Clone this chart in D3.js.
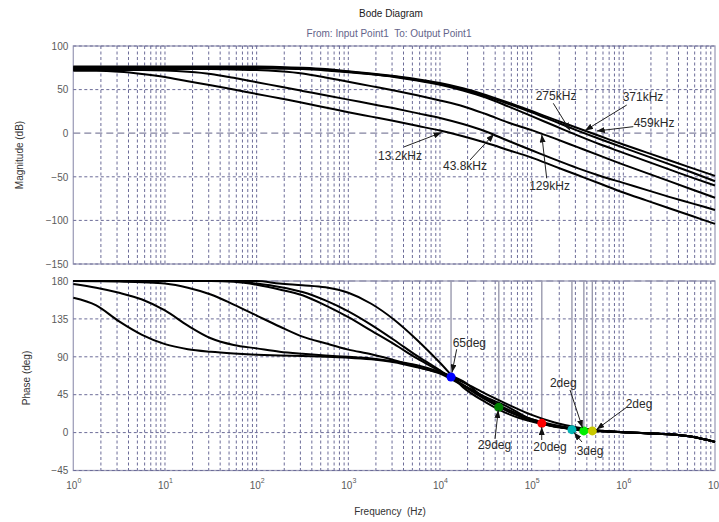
<!DOCTYPE html>
<html><head><meta charset="utf-8">
<script src="https://cdn.jsdelivr.net/npm/d3@7"></script>
<style>body{margin:0;background:#fff;} svg{display:block;font-family:"Liberation Sans",Arial,sans-serif;}</style>
</head><body><svg id="c" width="719" height="522"></svg>
<script>
// ---------------- data ----------------
const freqs = [1, 1.778, 3.162, 5.623, 10, 17.78, 31.62, 56.23, 100, 177.8, 316.2, 562.3,
  1000, 1778, 3162, 5623, 1e4, 17783, 31623, 56234, 1e5, 177828, 316228, 562341,
  1e6, 1778279, 3162278, 5623413, 1e7];

const magA = [71.5,71.5,70.5,68,64.5,59.5,55,50,45,40,35,29.5,24,19,14,8.5,3,-3.5,-11,-19.5,-28,-38,-48,-58,-68,-77,-86,-95,-104];
const magB = [72.5,72.5,72.5,72.5,72,70.5,68,63.5,58.5,53.5,48.5,43.5,38.5,33.5,28.5,23,17.5,10.5,2,-9,-19.5,-30,-40,-49,-57,-65,-73,-80.5,-88];
const magC = [73.5,73.5,73.5,73.5,73.5,73.5,73.5,73,72.5,71,68.5,64,59,54,49,43.5,37.5,31,22,12,3.5,-6,-16,-26,-36,-45.5,-55,-64.5,-74];
const magD = [74.5,74.5,74.5,74.5,74.5,74.5,74.5,74.5,74.5,74,73.5,72,70,67.5,64.5,60.5,55.5,49,41,30.5,19.5,8.5,-2.5,-13,-22.5,-32,-41.5,-51,-60];
const magE = [75.5,75.5,75.5,75.5,75.5,75.5,75.5,75.5,75.5,75,74.3,72.8,70.5,68,65,61,56.5,50.5,42.5,33.5,24,13.5,3,-7,-16.5,-26,-35.5,-45,-55];
const magF = [76.5,76.5,76.5,76.5,76.5,76.5,76.5,76.5,76.5,76,75,73.5,71,68.5,65.5,62,57.5,51.5,44,35,25.5,15.5,6,-3.5,-13,-22,-31,-40,-49];

const phA = [160,151,132,116,105,99,96,94,92.5,91.5,91,90,89,87,83.5,77.5,71,60,46,33,21,12,6,2.5,0.5,-0.7,-2,-5,-11];
const phB = [176.5,172,166,158,145,127,112,104,100,96,93.5,91.5,90,88,84.5,80,72,61,40,25,16,9,4.5,2,0.5,-0.7,-2,-5,-11];
const phC = [180,179.8,179.5,178.5,177,172,164,152,139,126,114,106,98.5,93,86,78,70,56,42,30,15,7,4,2,0.5,-0.7,-2,-5,-11];
const phD = [180,180,180,180,180,180,180,179,175.5,170,163,151,137,121,105,88,73,57,41,27,16,8,3.2,1.5,0.5,-0.7,-2,-5,-11];
const phE = [180,180,180,180,180,180,180,180,177,173,167,157,144,128,110,91,74,56,39,25,14,7.5,3,1.5,0.5,-0.7,-2,-5,-11];
const phF = [180,180,180,180,180,180,180,180,180,177,175,172.5,166,153,134,110,83,54,36,22,13,7.5,3.5,1.8,0.5,-0.7,-2,-5,-11];

const xTickExps = [0,1,2,3,4,5,6,7];
const magTicks = [100,50,0,-50,-100,-150];
const phaseTicks = [180,135,90,45,0,-45];

const marginFreqs  = [13200, 43800, 129000, 275000, 371000, 459000];
const marginPhases = [66, 30, 11, 3.5, 2, 2];
const marginColors = ["#0000ff", "#008000", "#ff0000", "#00b4b4", "#00ee00", "#c8c800"];

// annotations: label, text position (freq, value), arrow start, arrow end
const magNoteText  = ["13.2kHz","43.8kHz","129kHz","275kHz","371kHz","459kHz"];
const magNoteTF    = [3664, 18750, 156700, 184500, 1640000, 2163000];
const magNoteTV    = [-26.1, -37.5, -60.6, 42.7, 41.9, 11.4];
const magNoteAF    = [4055, 21280, 145900, 172200, 1089000, 1285000];
const magNoteAV    = [-15.7, -30.7, -51.7, 34.3, 32.3, 7.5];
const magNoteBF    = [10400, 38830, 128800, 262000, 382000, 512600];
const magNoteBV    = [0.8, -0.9, -1.5, 3.1, 3.1, 2.5];

const phNoteText = ["65deg","29deg","20deg","3deg","2deg","2deg"];
const phNoteTF   = [20890, 39350, 158500, 433500, 221300, 1483000];
const phNoteTV   = [106.7, -14.7, -16.7, -21.5, 58.5, 34];
const phNoteAF   = [15210, 39810, 128800, 354000, 262000, 1096000];
const phNoteAV   = [98.9, -7.6, -8.8, -11.2, 50.6, 30.4];
const phNoteBF   = [13530, 43250, 128800, 289700, 358900, 509400];
const phNoteBV   = [71.4, 26.8, 6.6, 0.1, 5.5, 3.7];

// ---------------- layout ----------------
const L = 73.3, R = 715;
const magTop = 46, magBot = 264, phTop = 281, phBot = 470.5;

const svg = d3.select("#c");
const x = d3.scaleLog().domain([1, 1e7]).range([L, R]);
const yMag = d3.scaleLinear().domain([-150, 100]).range([magBot, magTop]);
const yPh = d3.scaleLinear().domain([-45, 180]).range([phBot, phTop]);

const gridColor = "#6c6c98";
const frameColor = "#a0a0ba";
const tickColor = "#5a5a5a";

svg.append("defs").append("marker")
  .attr("id","ah").attr("markerUnits","userSpaceOnUse")
  .attr("markerWidth",8).attr("markerHeight",6).attr("refX",8).attr("refY",3)
  .attr("orient","auto")
  .append("path").attr("d","M0,0 L8,3 L0,6 Z").attr("fill","#111");

// vertical grid positions
const vgrid = [];
for (let k = 0; k < 7; k++) for (let m = 1; m < 10; m++) vgrid.push(m * Math.pow(10, k));
vgrid.push(1e7);

function panel(y, ticks, top, bot, specialVal) {
  const g = svg.append("g");
  g.append("rect").attr("x", L).attr("y", top).attr("width", R - L).attr("height", bot - top)
    .attr("fill", "#fff").attr("stroke", frameColor).attr("stroke-width", 1.3);
  g.selectAll(".vg").data(vgrid.filter(f => f > 1 && f < 1e7)).enter().append("line")
    .attr("x1", d => x(d)).attr("x2", d => x(d)).attr("y1", top).attr("y2", bot)
    .attr("stroke", gridColor).attr("stroke-width", 1).attr("stroke-dasharray", "3,2.5");
  g.selectAll(".hg").data(ticks).enter().append("line")
    .attr("x1", L).attr("x2", R).attr("y1", d => y(d)).attr("y2", d => y(d))
    .attr("stroke", d => specialVal.includes(d) ? "#8282a0" : gridColor)
    .attr("stroke-width", d => specialVal.includes(d) ? 1.2 : 1)
    .attr("stroke-dasharray", d => specialVal.includes(d) ? "7,4" : "3,2.5");
  // y axis labels
  const ax = d3.axisLeft(y).tickValues(ticks).tickSize(0).tickPadding(5);
  const ag = g.append("g").attr("transform", `translate(${L},0)`).call(ax);
  ag.select(".domain").remove();
  ag.selectAll("text").attr("fill", tickColor).style("font-size", "10px")
    .style("font-family", '"Liberation Sans",Arial,sans-serif');
  return g;
}
panel(yMag, magTicks, magTop, magBot, [0]);
panel(yPh, phaseTicks, phTop, phBot, [180]);

// x axis tick labels (10^n)
const xa = d3.axisBottom(x).tickValues(xTickExps.map(e => Math.pow(10, e))).tickSize(0).tickFormat("");
const xg = svg.append("g").attr("transform", `translate(0,${phBot})`).call(xa);
xg.select(".domain").remove();
xg.selectAll(".tick").each(function(d, i) {
  const t = d3.select(this).append("text").attr("y", 18.5).attr("text-anchor", "middle")
    .attr("fill", tickColor).style("font-size", "10px");
  t.append("tspan").text("10");
  t.append("tspan").attr("dy", -6).style("font-size", "7px").text(xTickExps[i]);
});

// margin vertical lines (phase panel)
svg.append("g").selectAll("line").data(marginFreqs).enter().append("line")
  .attr("x1", d => x(d)).attr("x2", d => x(d))
  .attr("y1", phTop).attr("y2", (d, i) => yPh(marginPhases[i]))
  .attr("stroke", "#9a9aae").attr("stroke-width", 1.4);

// curves
function series(vals) { return freqs.map((f, i) => [f, vals[i]]); }
const magSeries = [magA, magB, magC, magD, magE, magF];
const phSeries = [phA, phB, phC, phD, phE, phF];
const lineMag = d3.line().x(d => x(d[0])).y(d => yMag(d[1])).curve(d3.curveMonotoneX);
const linePh = d3.line().x(d => x(d[0])).y(d => yPh(d[1])).curve(d3.curveMonotoneX);
svg.append("g").selectAll("path").data(magSeries).enter().append("path")
  .attr("d", v => lineMag(series(v))).attr("fill", "none").attr("stroke", "#000").attr("stroke-width", 2);
svg.append("g").selectAll("path").data(phSeries).enter().append("path")
  .attr("d", v => linePh(series(v))).attr("fill", "none").attr("stroke", "#000").attr("stroke-width", 2);

// margin markers
svg.append("g").selectAll("circle").data(marginFreqs).enter().append("circle")
  .attr("cx", d => x(d)).attr("cy", (d, i) => yPh(marginPhases[i])).attr("r", 4.5)
  .attr("fill", (d, i) => marginColors[i]);

// annotations
function notes(yS, text, tf, tv, af, av, bf, bv) {
  const g = svg.append("g");
  text.forEach((t, i) => {
    g.append("line").attr("x1", x(af[i])).attr("y1", yS(av[i])).attr("x2", x(bf[i])).attr("y2", yS(bv[i]))
      .attr("stroke", "#222").attr("stroke-width", 1).attr("marker-end", "url(#ah)");
    g.append("text").attr("x", x(tf[i])).attr("y", yS(tv[i])).attr("text-anchor", "middle")
      .attr("dominant-baseline", "central").attr("fill", "#2a2a2a").style("font-size", "12px").text(t);
  });
}
notes(yMag, magNoteText, magNoteTF, magNoteTV, magNoteAF, magNoteAV, magNoteBF, magNoteBV);
notes(yPh, phNoteText, phNoteTF, phNoteTV, phNoteAF, phNoteAV, phNoteBF, phNoteBV);

// titles
svg.append("text").attr("x", 391).attr("y", 16.5).attr("text-anchor", "middle")
  .attr("fill", "#1a1a1a").style("font-size", "10px").text("Bode Diagram");
svg.append("text").attr("x", 389).attr("y", 37).attr("text-anchor", "middle")
  .attr("fill", "#64648a").style("font-size", "10px").style("white-space", "pre").text("From: Input Point1  To: Output Point1");
svg.append("text").attr("x", 390).attr("y", 515).attr("text-anchor", "middle")
  .attr("fill", "#333").style("font-size", "10px").style("white-space", "pre").text("Frequency  (Hz)");
svg.append("text").attr("transform", "translate(23,155) rotate(-90)").attr("text-anchor", "middle")
  .attr("fill", "#333").style("font-size", "10px").text("Magnitude (dB)");
svg.append("text").attr("transform", "translate(30,378) rotate(-90)").attr("text-anchor", "middle")
  .attr("fill", "#333").style("font-size", "10px").text("Phase (deg)");
</script>
</body></html>
